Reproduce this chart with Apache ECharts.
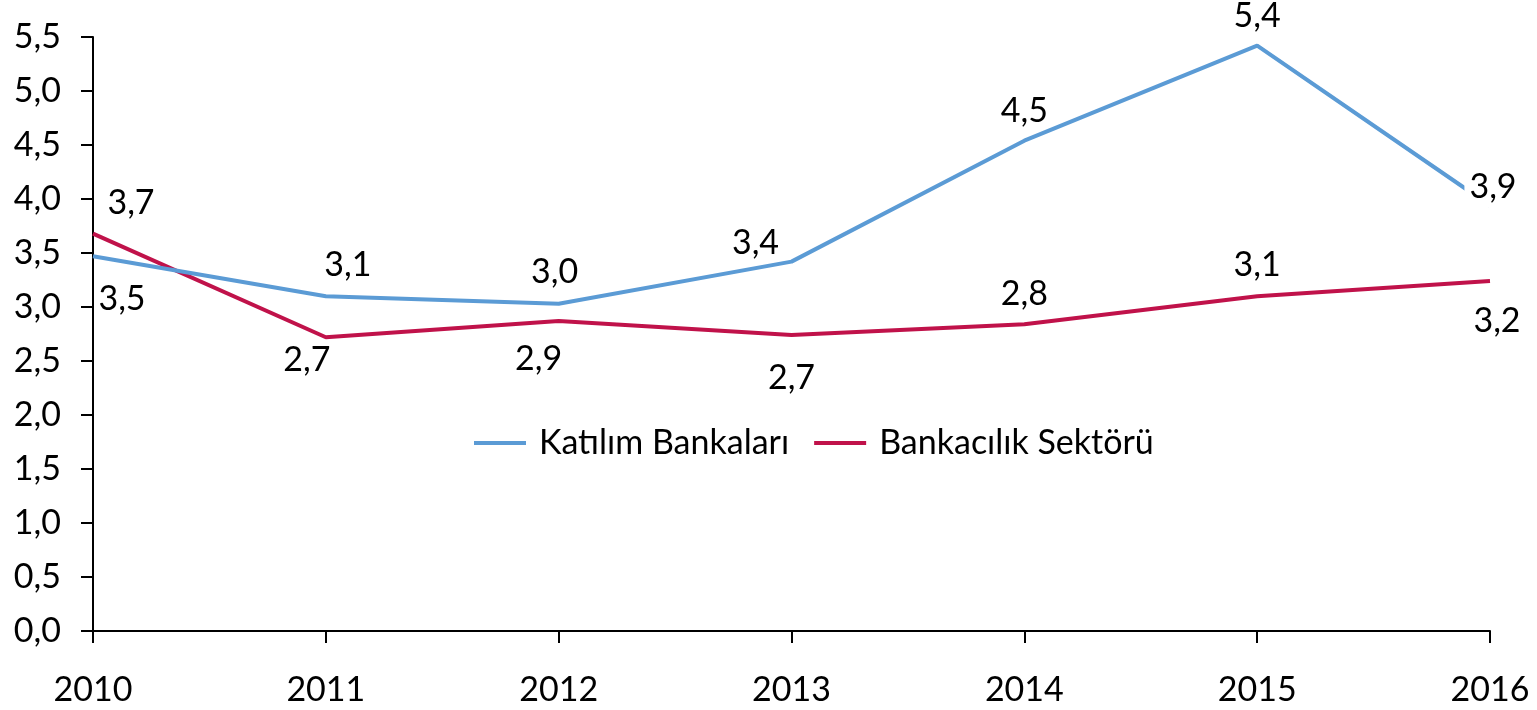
<!DOCTYPE html>
<html>
<head>
<meta charset="utf-8">
<script src="https://cdn.jsdelivr.net/npm/echarts@6/dist/echarts.min.js"></script>
<style>
  html, body { margin: 0; padding: 0; background: #fff; }
  #chart { width: 1537px; height: 710px; }
</style>
</head>
<body>
<div id="chart"></div>
<script>
// yıllar ve seriler
var years = ['2010', '2011', '2012', '2013', '2014', '2015', '2016'];
var katilim = [3.47, 3.10, 3.03, 3.42, 4.54, 5.42, 3.94];
var sektor = [3.68, 2.72, 2.87, 2.74, 2.84, 3.10, 3.24];

// etiket kaydırmaları (px)
var katilimOffset = [[29, 43], [22, -31], [-4, -32], [-36, -19], [0, -30], [0, -30], [3, -18]];
var sektorOffset = [[38, -31], [-19, 23], [-20, 38], [0, 43], [0, -30], [0, -31], [7, 40]];
// etiket arka plan boşluğu (2016 etiketi çizginin üstünü örtüyor)
var katilimPad = [2, 2, 2, 2, 2, 2, 5];
var sektorPad = [2, 2, 2, 2, 2, 2, 2];

function fmt(v) {
  return v.toFixed(1).replace('.', ',');
}

function build(values, offsets, pads) {
  var out = [];
  for (var i = 0; i < values.length; i++) {
    out.push({ value: values[i], label: { offset: offsets[i], padding: [pads[i] - 2, pads[i]] } });
  }
  return out;
}

var font = 'Lato, "Open Sans", sans-serif';
var labelStyle = {
  show: true,
  position: 'inside',
  fontFamily: font,
  fontSize: 34,
  color: '#000',
  backgroundColor: '#fff',
  formatter: function (p) { return fmt(p.value); }
};

var chart = echarts.init(document.getElementById('chart'));
var option = {
  animation: false,
  grid: { left: 93, right: 47, top: 37, bottom: 79 },
  legend: {
    left: 469,
    top: 421,
    icon: 'rect',
    itemWidth: 52,
    itemHeight: 4,
    itemGap: 25,
    textStyle: { fontFamily: font, fontSize: 34, color: '#000', padding: [0, 0, 0, 8] },
    data: ['Katılım Bankaları', 'Bankacılık Sektörü']
  },
  xAxis: {
    type: 'category',
    data: years,
    boundaryGap: false,
    axisLine: { lineStyle: { color: '#000', width: 2 } },
    axisTick: { show: true, length: 12, lineStyle: { color: '#000', width: 2 } },
    axisLabel: { fontFamily: font, fontSize: 34, color: '#000', margin: 42 }
  },
  yAxis: {
    type: 'value',
    min: 0,
    max: 5.5,
    interval: 0.5,
    splitLine: { show: false },
    axisLine: { show: true, lineStyle: { color: '#000', width: 2 } },
    axisTick: { show: true, length: 12, lineStyle: { color: '#000', width: 2 } },
    axisLabel: { fontFamily: font, fontSize: 34, color: '#000', margin: 32, formatter: fmt }
  },
  series: [
    {
      name: 'Katılım Bankaları',
      type: 'line',
      data: build(katilim, katilimOffset, katilimPad),
      color: '#5B9BD5',
      symbol: 'circle',
      symbolSize: 0.01,
      lineStyle: { width: 4, color: '#5B9BD5' },
      label: labelStyle,
      z: 3
    },
    {
      name: 'Bankacılık Sektörü',
      type: 'line',
      data: build(sektor, sektorOffset, sektorPad),
      color: '#C0124A',
      symbol: 'circle',
      symbolSize: 0.01,
      lineStyle: { width: 4, color: '#C0124A' },
      label: labelStyle,
      z: 2
    }
  ]
};
chart.setOption(option);
</script>
</body>
</html>
